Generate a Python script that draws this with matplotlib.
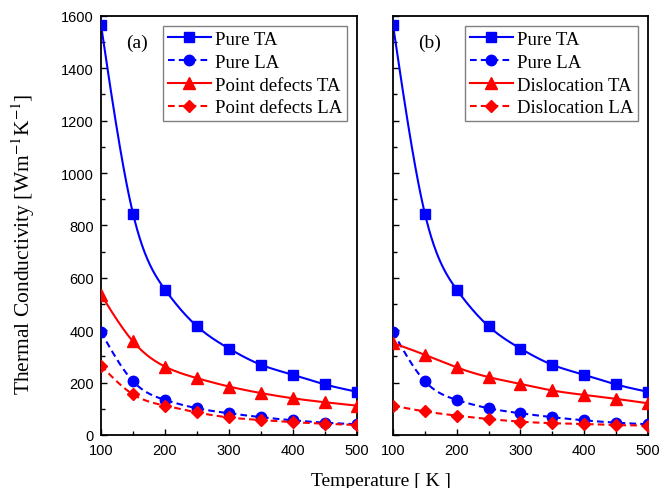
import matplotlib
matplotlib.use("Agg")
import matplotlib.pyplot as plt
import numpy as np
from matplotlib.ticker import MultipleLocator

# data
temps = [100, 150, 200, 250, 300, 350, 400, 450, 500]
pure_ta = [1565, 845, 555, 415, 330, 268, 230, 193, 165]
pure_la = [393, 205, 134, 102, 83, 68, 56, 47, 41]
point_ta = [536, 357, 261, 217, 185, 160, 140, 125, 112]
point_la = [265, 155, 112, 86, 67, 57, 49, 43, 38]
disl_ta = [351, 306, 258, 221, 195, 170, 153, 138, 121]
disl_la = [112, 90, 74, 61, 51, 45, 42, 38, 36]

SERIF = "Liberation Serif"
SANS = "Liberation Sans"
plt.rcParams["mathtext.fontset"] = "stix"


def spline(x, y, n=300):
    # natural cubic spline, only used to draw the connecting line smoothly
    x = np.asarray(x, float)
    y = np.asarray(y, float)
    k = len(x)
    h = np.diff(x)
    A = np.zeros((k, k))
    b = np.zeros(k)
    A[0, 0] = A[-1, -1] = 1
    for i in range(1, k - 1):
        A[i, i - 1] = h[i - 1]
        A[i, i] = 2 * (h[i - 1] + h[i])
        A[i, i + 1] = h[i]
        b[i] = 6 * ((y[i + 1] - y[i]) / h[i] - (y[i] - y[i - 1]) / h[i - 1])
    M = np.linalg.solve(A, b)
    xs = np.linspace(x[0], x[-1], n)
    idx = np.clip(np.searchsorted(x, xs) - 1, 0, k - 2)
    x0, x1 = x[idx], x[idx + 1]
    hh = x1 - x0
    t0 = x1 - xs
    t1 = xs - x0
    ys = (M[idx] * t0**3 + M[idx + 1] * t1**3) / (6 * hh) \
        + (y[idx] / hh - M[idx] * hh / 6) * t0 \
        + (y[idx + 1] / hh - M[idx + 1] * hh / 6) * t1
    return xs, ys


def series(ax, y, color, marker, ms, dashed, label):
    xs, ys = spline(temps, y)
    ls = (0, (3.2, 2)) if dashed else "-"
    ax.plot(xs, ys, color=color, lw=1.5, linestyle=ls, zorder=2)
    ax.plot(temps, y, color=color, marker=marker, ms=ms, linestyle="none", zorder=3)
    # proxy for legend
    ax.plot([], [], color=color, lw=1.5, linestyle=ls, marker=marker, ms=ms, label=label)


fig = plt.figure(figsize=(6.62, 4.89), dpi=100)
ax_a = fig.add_axes([0.1526, 0.1084, 0.3867, 0.857])
ax_b = fig.add_axes([0.5937, 0.1084, 0.385, 0.857])

panels = [
    (ax_a, "(a)", point_ta, point_la, "Point defects"),
    (ax_b, "(b)", disl_ta, disl_la, "Dislocation"),
]

for ax, tag, ta, la, name in panels:
    series(ax, pure_ta, "#0000ff", "s", 7, False, "Pure TA")
    series(ax, pure_la, "#0000ff", "o", 7.5, True, "Pure LA")
    series(ax, ta, "#ff0000", "^", 8, False, name + " TA")
    series(ax, la, "#ff0000", "D", 6.5, True, name + " LA")

    ax.set_xlim(100, 500)
    ax.set_ylim(0, 1600)
    ax.xaxis.set_major_locator(MultipleLocator(100))
    ax.xaxis.set_minor_locator(MultipleLocator(50))
    ax.yaxis.set_major_locator(MultipleLocator(200))
    ax.yaxis.set_minor_locator(MultipleLocator(100))
    ax.tick_params(which="both", direction="in", width=1.0, labelsize=10.5)
    ax.tick_params(which="major", length=4.5)
    ax.tick_params(which="minor", length=3)
    ax.tick_params(axis="x", pad=6)
    ax.tick_params(axis="y", pad=5)
    for lab in ax.get_xticklabels() + ax.get_yticklabels():
        lab.set_fontfamily(SANS)
    for sp in ax.spines.values():
        sp.set_linewidth(1.3)

    ax.text(0.10, 0.938, tag, transform=ax.transAxes, fontsize=14,
            family=SERIF, va="center", ha="left")

    leg = ax.legend(loc="upper right", prop={"family": SERIF, "size": 13.5},
                    fancybox=False, edgecolor="#808080", framealpha=1,
                    handlelength=2.3, handletextpad=0.2, labelspacing=0.3,
                    borderpad=0.25, borderaxespad=0.55)
    leg.get_frame().set_linewidth(1.0)

ax_b.tick_params(labelleft=False)

fig.text(0.035, 0.5, "Thermal Conductivity [Wm$^{-1}$K$^{-1}$]", rotation=90,
         family=SERIF, fontsize=15.5, ha="center", va="center")
fig.text(0.5755, 0.006, "Temperature [ K ]", family=SERIF, fontsize=14,
         ha="center", va="baseline")

fig.savefig("out.png", dpi=100)
